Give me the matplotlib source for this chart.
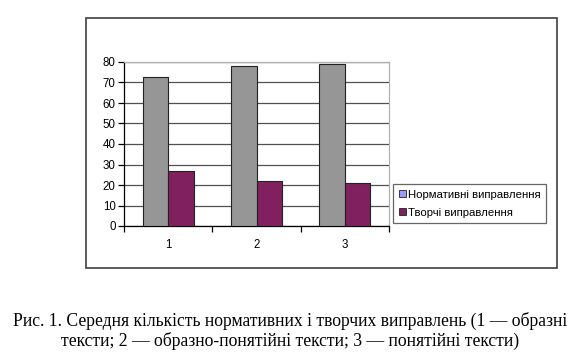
import matplotlib.pyplot as plt
from matplotlib.patches import Patch, Rectangle
import numpy as np

categories = ["1", "2", "3"]
normative = [72.5, 78, 79]
creative = [27, 22, 21]
series_names = ["Нормативні виправлення", "Творчі виправлення"]
caption = ("Рис. 1. Середня кількість нормативних і творчих виправлень (1 — образні\n"
           "тексти; 2 — образно-понятійні тексти; 3 — понятійні тексти)")

W, H = 581, 354
fig = plt.figure(figsize=(W / 100, H / 100), dpi=100)
plt.rcParams['font.family'] = ['Liberation Sans', 'DejaVu Sans']

# outer chart frame
fig.patches.append(Rectangle((86 / W, 1 - 268 / H), (557 - 86) / W, (268 - 18) / H,
                             transform=fig.transFigure, fill=False,
                             edgecolor="#404040", linewidth=1.2))

ax = fig.add_axes([124 / W, 1 - 226 / H, 265 / W, 164 / H])
x = np.arange(len(categories))
bw = 0.29
ax.bar(x - bw / 2, normative, bw, color="#969696", edgecolor="#222222", linewidth=0.8, zorder=3)
ax.bar(x + bw / 2, creative, bw, color="#80205f", edgecolor="#222222", linewidth=0.8, zorder=3)

ax.set_xlim(-0.5, 2.5)
ax.set_ylim(0, 80)
ax.set_yticks(range(0, 81, 10))
ax.yaxis.grid(True, color="#505050", linewidth=0.9, zorder=0)
ax.set_xticks(x)
ax.set_xticklabels(categories)
ax.set_xticks([-0.5, 0.5, 1.5, 2.5], minor=True)
ax.tick_params(axis="x", which="major", length=0, pad=9, labelsize=8.3)
ax.tick_params(axis="x", which="minor", length=4, direction="out", width=0.9)
ax.tick_params(axis="y", length=4, width=0.9, labelsize=8.3, pad=2)
for s in ["top", "right"]:
    ax.spines[s].set_color("#b0b0b0")
    ax.spines[s].set_linewidth(0.9)
for s in ["left", "bottom"]:
    ax.spines[s].set_color("#000000")
    ax.spines[s].set_linewidth(0.9)

handles = [Patch(facecolor="#9999ff", edgecolor="#222222", linewidth=0.6),
           Patch(facecolor="#80205f", edgecolor="#222222", linewidth=0.6)]
leg = fig.legend(handles, series_names, loc="upper left",
                 bbox_to_anchor=(393 / W, 1 - 184 / H), fontsize=8.2,
                 handlelength=0.6, handleheight=0.6, handletextpad=0.2,
                 borderpad=0.5, labelspacing=0.7, fancybox=False,
                 frameon=True, borderaxespad=0)
leg.get_frame().set_edgecolor("#404040")
leg.get_frame().set_linewidth(0.9)

fig.text(0.5, 1 - 331 / H, caption, ha="center", va="center",
         family=["Liberation Serif", "DejaVu Serif"], fontsize=12.7, linespacing=1.15)

fig.savefig("out.png", dpi=100)
